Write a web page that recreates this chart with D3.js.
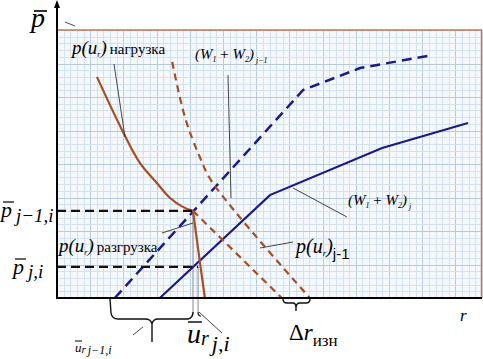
<!DOCTYPE html>
<html><head><meta charset="utf-8">
<script src="https://cdn.jsdelivr.net/npm/d3@7"></script>
<style>body{margin:0;background:#fff}svg{display:block}</style>
</head><body>
<svg id="c" width="483" height="359"></svg>
<script>
// ---- data (units: r 0..100, p 0..100) ----
const loadingR = [9.4, 15.3, 19.5, 23.5, 26.6, 29.6, 32.0];
const loadingP = [82.5, 62.7, 50.4, 42.9, 37.3, 34.0, 32.5];
const unloadR = [32.0, 33.4, 34.8];
const unloadP = [32.5, 16.0, 0];
const prevR = [27.1, 30.1, 33.6, 36.5, 59.5];
const prevP = [88.1, 67.5, 52.6, 43.3, 0];
const prevUnloadR = [32.0, 52.9];
const prevUnloadP = [32.5, 0];
const wPrevR = [13.6, 57.9, 71.3, 88.5];
const wPrevP = [0, 77.6, 85.8, 90.7];
const wCurR = [24.2, 50.1, 76.5, 96.7];
const wCurP = [0, 38.4, 56.0, 65.3];
const levelP = [32.5, 11.6];       // p̄ j-1,i ; p̄ j,i
const levelR = [32.0, 33.2];       // where levels end
const uR = [32.0, 33.2];           // ū_r j-1,i , ū_r j,i verticals

const svg = d3.select("#c");
const x = d3.scaleLinear().domain([0, 100]).range([57, 482]);
const y = d3.scaleLinear().domain([0, 100]).range([298, 30]);
const zip = (a, b) => a.map((v, i) => [v, b[i]]);

// plot background + grid
svg.append("rect").attr("x", x(0)).attr("y", y(100)).attr("width", x(100) - x(0)).attr("height", y(0) - y(100)).attr("fill", "#f5f9fd");
const gx = d3.range(0, 100.001, 100 / 64);
const gy = d3.range(0, 100.001, 2.5);
const grid = svg.append("g").attr("shape-rendering", "crispEdges");
gx.forEach((v, i) => grid.append("line").attr("x1", Math.round(x(v)) + 0.5).attr("x2", Math.round(x(v)) + 0.5).attr("y1", y(0)).attr("y2", y(100))
  .attr("stroke", i % 5 === 0 ? "#b6cbe3" : "#d3e1f0").attr("stroke-width", 1));
gy.forEach((v, i) => grid.append("line").attr("y1", Math.round(y(v)) + 0.5).attr("y2", Math.round(y(v)) + 0.5).attr("x1", x(0)).attr("x2", x(100))
  .attr("stroke", i % 5 === 0 ? "#b6cbe3" : "#d3e1f0").attr("stroke-width", 1));

// frame: top and right borders (brown)
svg.append("line").attr("x1", x(0)).attr("x2", x(100)).attr("y1", y(100)).attr("y2", y(100)).attr("stroke", "#c07a5a").attr("stroke-width", 1.5);
svg.append("line").attr("x1", x(100) - 0.5).attr("x2", x(100) - 0.5).attr("y1", y(100)).attr("y2", y(0)).attr("stroke", "#c07a5a").attr("stroke-width", 1.5);

const line = d3.line().x(d => x(d[0])).y(d => y(d[1]));
const curve = d3.line().x(d => x(d[0])).y(d => y(d[1])).curve(d3.curveCatmullRom.alpha(0.5));

const brown = "#a54f22", navy = "#1b1a86";

// thin gray verticals
svg.append("line").attr("x1", x(uR[0])).attr("x2", x(uR[0])).attr("y1", y(levelP[0])).attr("y2", 314).attr("stroke", "#8a8a8a").attr("stroke-width", 1);
svg.append("line").attr("x1", x(uR[1])).attr("x2", x(uR[1])).attr("y1", y(levelP[1])).attr("y2", 312).attr("stroke", "#8a8a8a").attr("stroke-width", 1);

// curves
svg.append("path").attr("d", line(zip(wPrevR, wPrevP))).attr("fill", "none").attr("stroke", navy).attr("stroke-width", 2.5).attr("stroke-dasharray", "10,6");
svg.append("path").attr("d", line(zip(wCurR, wCurP))).attr("fill", "none").attr("stroke", navy).attr("stroke-width", 2.2);
svg.append("path").attr("d", curve(zip(prevR, prevP))).attr("fill", "none").attr("stroke", brown).attr("stroke-width", 2.2).attr("stroke-dasharray", "7,5");
svg.append("path").attr("d", line(zip(prevUnloadR, prevUnloadP))).attr("fill", "none").attr("stroke", brown).attr("stroke-width", 2.2).attr("stroke-dasharray", "7,5");
svg.append("path").attr("d", curve(zip(loadingR, loadingP))).attr("fill", "none").attr("stroke", brown).attr("stroke-width", 2.2);
svg.append("path").attr("d", curve(zip(unloadR, unloadP))).attr("fill", "none").attr("stroke", brown).attr("stroke-width", 2.2);

// level dashed lines
levelP.forEach((p, i) => svg.append("line").attr("x1", x(0)).attr("x2", x(levelR[i])).attr("y1", y(p)).attr("y2", y(p))
  .attr("stroke", "#111").attr("stroke-width", 2.2).attr("stroke-dasharray", "9,5"));

// axes
svg.append("line").attr("x1", x(0)).attr("x2", x(0)).attr("y1", 4).attr("y2", y(0) + 1).attr("stroke", "#000").attr("stroke-width", 2);
svg.append("path").attr("d", `M${x(0)},0 L${x(0) - 3},8 L${x(0) + 3},8 Z`).attr("fill", "#000");
svg.append("line").attr("x1", x(0) - 1).attr("x2", x(100)).attr("y1", y(0)).attr("y2", y(0)).attr("stroke", "#000").attr("stroke-width", 2.2);

// leader lines
const leaders = [
  [[114, 64], [125, 137]],
  [[228, 75], [231, 198]],
  [[162, 233], [193, 223]],
  [[293, 188], [347, 217]],
  [[260, 248], [293, 242]],
  [[199, 312], [222, 333]],
  [[133, 335], [143, 327]],
  [[65, 22], [75, 26]]
];
leaders.forEach(l => svg.append("line").attr("x1", l[0][0]).attr("y1", l[0][1]).attr("x2", l[1][0]).attr("y2", l[1][1]).attr("stroke", "#333").attr("stroke-width", 0.9));

// braces
svg.append("path").attr("d", "M110,299 L111,313 Q112,319 118,319 L145,319 Q151,319 152,324 L152,342 M152,324 Q153,319 158,319 L188,319 Q193,318 193,312")
  .attr("fill", "none").attr("stroke", "#111").attr("stroke-width", 1.4);
svg.append("path").attr("d", "M198,312 Q198,316 201,316")
  .attr("fill", "none").attr("stroke", "#111").attr("stroke-width", 1.2);
svg.append("path").attr("d", "M283,299 Q283,303 287,303 L293,303 Q296,303 296,308 L296,311 M296,308 Q296,303 300,303 L306,303 Q310,303 310,299")
  .attr("fill", "none").attr("stroke", "#111").attr("stroke-width", 1.4);

// ---- text ----
const serif = "Liberation Serif, serif";
function txt(xp, yp, size, italic) {
  return svg.append("text").attr("x", xp).attr("y", yp).style("font-family", serif).attr("font-size", size)
    .attr("font-style", italic ? "italic" : "normal").attr("fill", "#000");
}
function bar(x1, x2, yy, w) {
  svg.append("line").attr("x1", x1).attr("x2", x2).attr("y1", yy).attr("y2", yy).attr("stroke", "#000").attr("stroke-width", w || 1.3);
}
// p̄ axis label
txt(31, 27, 28, true).text("p"); bar(34, 47, 11, 1.6);
txt(460, 321, 17, true).text("r");

// left level labels
txt(1, 217, 22, true).text("p"); bar(3, 14, 202, 1.2);
txt(16, 222, 19, true).text("j\u22121,i");
txt(13, 274, 22, true).text("p"); bar(15, 26, 259, 1.2);
txt(28, 278, 19, true).text("j,i");

// p(u_r) нагрузка
(function () {
  const t = txt(72, 54, 19, true);
  t.append("tspan").text("p(u");
  t.append("tspan").attr("font-size", 8).attr("dy", 3).text("r");
  t.append("tspan").attr("dy", -3).text(")");
  t.append("tspan").attr("font-style", "normal").attr("font-size", 15).attr("dx", 3).text("нагрузка");
})();
// p(u_r) разгрузка
(function () {
  const t = txt(59, 252, 19, true);
  t.append("tspan").text("p(u");
  t.append("tspan").attr("font-size", 8).attr("dy", 3).text("r");
  t.append("tspan").attr("dy", -3).text(")");
  t.append("tspan").attr("font-style", "normal").attr("font-size", 15).attr("dx", 3).text("разгрузка");
})();
// p(u_r)_{j-1}
(function () {
  const t = txt(296, 253, 20, true);
  t.append("tspan").text("p(u");
  t.append("tspan").attr("font-size", 9).attr("dy", 3).text("r");
  t.append("tspan").attr("dy", -3).text(")");
  t.append("tspan").attr("font-style", "normal").style("font-family", "Liberation Sans, Arial, sans-serif").attr("font-size", 15).attr("dy", 6).text("j-1");
})();
// (W1+W2)_{j-1}
(function () {
  const t = txt(195, 59, 15, true);
  t.append("tspan").text("(W");
  t.append("tspan").attr("font-size", 8).attr("dy", 3).text("1");
  t.append("tspan").attr("dy", -3).attr("font-style", "normal").text(" + ");
  t.append("tspan").text("W");
  t.append("tspan").attr("font-size", 8).attr("dy", 3).text("2");
  t.append("tspan").attr("dy", -3).text(")");
  t.append("tspan").attr("font-size", 8).attr("dy", 4).text(" j\u22121");
})();
// (W1+W2)_j
(function () {
  const t = txt(348, 205, 15, true);
  t.append("tspan").text("(W");
  t.append("tspan").attr("font-size", 8).attr("dy", 3).text("1");
  t.append("tspan").attr("dy", -3).attr("font-style", "normal").text(" + ");
  t.append("tspan").text("W");
  t.append("tspan").attr("font-size", 8).attr("dy", 3).text("2");
  t.append("tspan").attr("dy", -3).text(")");
  t.append("tspan").attr("font-size", 8).attr("dy", 4).text(" j");
})();
// ū_r j,i
(function () {
  const t = txt(187, 343, 28, true);
  t.append("tspan").text("u");
  t.append("tspan").attr("font-size", 20).attr("dy", 2).text("r");
  t.append("tspan").attr("font-size", 22).attr("dx", 3).attr("dy", 6).text("j,i");
  bar(188, 202, 322, 1.4);
})();
// ū_r j-1,i
(function () {
  const t = txt(75, 352, 13, true);
  t.append("tspan").text("u");
  t.append("tspan").attr("font-size", 11).attr("dy", 1).text("r");
  t.append("tspan").attr("font-size", 12).attr("dx", 2).attr("dy", 1).text("j\u22121,i");
  bar(75, 82, 341, 1);
})();
// Δr_изн
(function () {
  const t = txt(289, 340, 23, false);
  t.append("tspan").text("Δ");
  t.append("tspan").attr("font-style", "italic").text("r");
  t.append("tspan").attr("font-size", 17).attr("dy", 6).text("изн");
})();
</script>
</body></html>
